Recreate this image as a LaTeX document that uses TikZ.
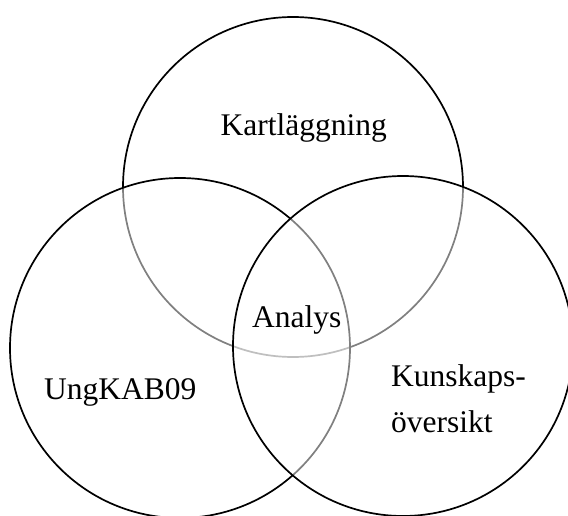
\documentclass[tikz,border=0pt]{standalone}
\usepackage{fontspec}
\setmainfont{Liberation Serif}
\begin{document}
\begin{tikzpicture}[x=1pt,y=-1pt,
  ring/.style={circle, draw=black, line width=1.7pt, minimum size=340pt, inner sep=0pt, outer sep=0pt},
  veil/.style={ring, fill=white, fill opacity=0.5},
  label/.style={anchor=base west, inner sep=0pt, font=\fontsize{31.5}{36}\selectfont}]
\useasboundingbox (0,0) rectangle (568,516);
\node[ring] (top) at (293,187) {};
\node[veil] (left) at (180,348) {};
\node[veil] (right) at (403,346) {};
\node[label] (kart) at (220.5,136) {Kartläggning};
\node[label] (ana) at (252,327) {Analys};
\node[label] (ung) at (44,399) {UngKAB09};
\node[label] (kun1) at (391,386) {Kunskaps-};
\node[label] (kun2) at (391,432) {översikt};
\end{tikzpicture}
\end{document}
